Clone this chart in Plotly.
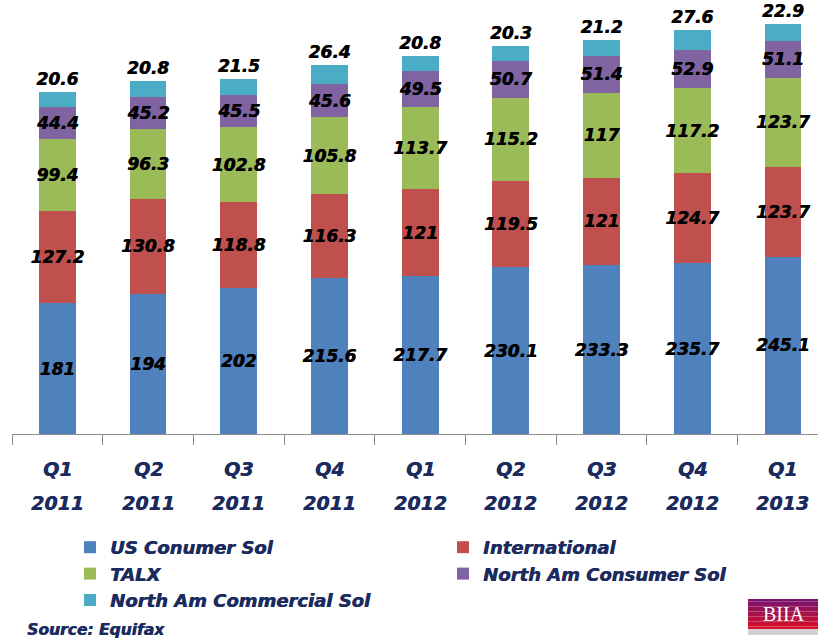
import plotly.graph_objects as go

quarters = ["Q1", "Q2", "Q3", "Q4", "Q1", "Q2", "Q3", "Q4", "Q1"]
years = ["2011", "2011", "2011", "2011", "2012", "2012", "2012", "2012", "2013"]
categories = [f"{q} {y}" for q, y in zip(quarters, years)]

us_consumer = [181, 194, 202, 215.6, 217.7, 230.1, 233.3, 235.7, 245.1]
international = [127.2, 130.8, 118.8, 116.3, 121, 119.5, 121, 124.7, 123.7]
talx = [99.4, 96.3, 102.8, 105.8, 113.7, 115.2, 117, 117.2, 123.7]
na_consumer = [44.4, 45.2, 45.5, 45.6, 49.5, 50.7, 51.4, 52.9, 51.1]
na_commercial = [20.6, 20.8, 21.5, 26.4, 20.8, 20.3, 21.2, 27.6, 22.9]

series = [
    ("US Conumer Sol", us_consumer, "#4F81BD"),
    ("International", international, "#C0504D"),
    ("TALX", talx, "#9BBB59"),
    ("North Am Consumer Sol", na_consumer, "#8064A2"),
    ("North Am Commercial Sol", na_commercial, "#4BACC6"),
]

NAVY = "#1B2B5E"
FONT = "DejaVu Sans"
W, H = 818, 640
L, B = 12, 206
PLOT_W = W - L
PLOT_H = H - B


def px2x(px):
    return (px - L) / PLOT_W


def px2y(py):
    return (434 - py) / PLOT_H


def heavy(color, size):
    return dict(family=FONT, size=size, color=color, weight="bold", style="italic",
                shadow=f"0.6px 0px 0px {color}")


fig = go.Figure()
for i, (name, vals, color) in enumerate(series):
    last = i == len(series) - 1
    fig.add_trace(go.Bar(
        name=name,
        x=list(range(len(categories))),
        y=vals,
        marker=dict(color=color, line=dict(width=0)),
        width=0.405,
        text=[f"{v:g}" for v in vals],
        textposition="outside" if last else "inside",
        insidetextanchor="middle",
        textangle=0,
        constraintext="none",
        cliponaxis=False,
        textfont=heavy("black", 17),
        hovertext=categories,
    ))

annotations = []
for i, (q, y) in enumerate(zip(quarters, years)):
    annotations.append(dict(x=i, y=px2y(469.5), xref="x", yref="paper",
                            text=q, showarrow=False, yanchor="middle", xanchor="center",
                            font=heavy(NAVY, 19)))
    annotations.append(dict(x=i, y=px2y(503), xref="x", yref="paper",
                            text=y, showarrow=False, yanchor="middle", xanchor="center",
                            font=heavy(NAVY, 19)))

annotations.append(dict(x=px2x(25), y=px2y(630), xref="paper", yref="paper",
                        text="Source: Equifax", showarrow=False, xanchor="left", yanchor="middle",
                        font=heavy(NAVY, 15.5)))

shapes = []
# BIIA logo: simple vertical gradient box
top, bot = 599, 629
n = 12
c0 = (120, 20, 110)
c1 = (215, 15, 40)
for k in range(n):
    t = k / (n - 1)
    col = tuple(int(c0[j] + (c1[j] - c0[j]) * t) for j in range(3))
    y0 = top + (bot - top) * k / n
    y1 = top + (bot - top) * (k + 1) / n
    shapes.append(dict(type="rect", xref="paper", yref="paper",
                       x0=px2x(748), x1=px2x(818), y0=px2y(y1), y1=px2y(y0),
                       fillcolor="rgb(%d,%d,%d)" % col, line=dict(width=0), layer="above"))
shapes.append(dict(type="rect", xref="paper", yref="paper",
                   x0=px2x(748), x1=px2x(818), y0=px2y(635), y1=px2y(629),
                   fillcolor="rgba(120,120,120,0.35)", line=dict(width=0)))
annotations.append(dict(x=px2x(784), y=px2y(614), xref="paper", yref="paper", text="BIIA",
                        showarrow=False, xanchor="center", yanchor="middle",
                        font=dict(family="Liberation Serif", size=20, color="white")))

fig.update_layout(
    width=W, height=H,
    margin=dict(l=L, r=0, t=0, b=B),
    barmode="stack",
    plot_bgcolor="white", paper_bgcolor="white",
    font=dict(family=FONT),
    showlegend=True,
    legend=dict(
        orientation="h", xref="container", yref="container",
        x=70 / W, y=1 - 529 / H, xanchor="left", yanchor="top",
        traceorder="normal",
        entrywidth=328, entrywidthmode="pixels",
        font=heavy(NAVY, 18),
        bgcolor="rgba(0,0,0,0)", tracegroupgap=0,
    ),
    xaxis=dict(
        range=[-0.5, -0.5 + PLOT_W / 90.7],
        tickmode="array",
        tickvals=[i - 0.5 for i in range(len(categories) + 1)],
        ticktext=["" for _ in range(len(categories) + 1)],
        ticks="outside", ticklen=10, tickcolor="#8C8C8C", tickwidth=1,
        showline=True, linecolor="#8C8C8C", linewidth=1,
        showgrid=False, zeroline=False, fixedrange=True,
    ),
    yaxis=dict(range=[0, PLOT_H / 0.7237], visible=False, fixedrange=True),
    annotations=annotations,
    shapes=shapes,
)

fig.write_html("out.html")
